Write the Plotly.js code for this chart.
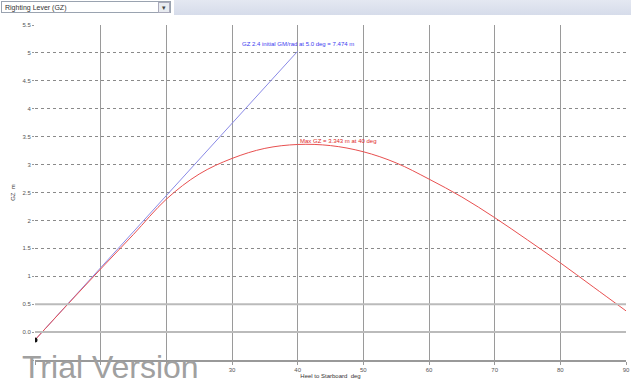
<!DOCTYPE html>
<html><head><meta charset="utf-8">
<script src="https://cdn.plot.ly/plotly-3.0.1.min.js"></script>
<style>
html,body{margin:0;padding:0;background:#fff;}
#wrap{position:relative;width:631px;height:383px;overflow:hidden;}
#chart{position:absolute;left:0;top:0;width:631px;height:383px;}
#hdr{position:absolute;left:0;top:0;width:631px;height:16px;}
#sel{position:absolute;left:1px;top:1px;width:170px;height:12px;border:1px solid #9aa3b0;background:#fff;font:7px "Liberation Sans",Arial,sans-serif;color:#333;line-height:12px;padding-left:3px;box-sizing:border-box;}
#btn{position:absolute;left:158px;top:2px;width:12px;height:11px;border:1px solid #aab;background:#e8ebf0;box-sizing:border-box;font:7px Arial;text-align:center;line-height:9px;color:#444;}
#bar{position:absolute;left:174px;top:0;width:457px;height:15px;background:linear-gradient(#e4e8f2,#d6dcea);}
</style></head>
<body><div id="wrap"><div id="chart"></div>
<div id="hdr"><div id="bar"></div><div id="sel">Righting Lever (GZ)</div><div id="btn">▾</div></div></div>
<script>
// Heel angles (deg) and righting lever GZ (m)
const heel = [0, 5, 10, 15, 20, 25, 30, 35, 40, 45, 50, 55, 60, 65, 70, 75, 80, 85, 90];
const gz   = [-0.14, 0.50, 1.13, 1.75, 2.38, 2.83, 3.11, 3.29, 3.36, 3.34, 3.23, 3.03, 2.74, 2.42, 2.05, 1.65, 1.24, 0.81, 0.38];
// Initial GM tangent line
const gmHeel = [0, 40];
const gmGZ   = [-0.14, 5.03];
const xTicks = [0, 10, 20, 30, 40, 50, 60, 70, 80, 90];
const xTickText = ['', '', '', '30', '40', '50', '60', '70', '80', '90'];
const yTicks = [-0.5, 0, 0.5, 1, 1.5, 2, 2.5, 3, 3.5, 4, 4.5, 5, 5.5];
const yTickText = ['', '0.0', '0.5', '1', '1.5', '2', '2.5', '3', '3.5', '4', '4.5', '5', '5.5'];
const maxLabel = 'Max GZ = 3.343 m at 40 deg';
const gmLabel = 'GZ 2.4 initial GM/rad at 5.0 deg = 7.474 m';

const F = '"Liberation Sans", Arial, sans-serif';
const traces = [
  {x: gmHeel, y: gmGZ, type: 'scatter', mode: 'lines', line: {color: '#8a8ae6', width: 1}, hoverinfo: 'skip'},
  {x: heel, y: gz, type: 'scatter', mode: 'lines', line: {color: '#e85050', width: 1, shape: 'spline', smoothing: 1}, hoverinfo: 'skip'},
  {x: [heel[0]], y: [gz[0]], type: 'scatter', mode: 'markers', marker: {color: '#111', size: 5}, hoverinfo: 'skip'}
];
const layout = {
  width: 631, height: 383,
  margin: {l: 35, r: 5, t: 25, b: 23},
  paper_bgcolor: '#fff', plot_bgcolor: '#fff',
  showlegend: false,
  font: {family: F, size: 7, color: '#444'},
  xaxis: {
    range: [0, 90], tickvals: xTicks, ticktext: xTickText,
    showgrid: true, gridcolor: '#9a9a9a', gridwidth: 1,
    zeroline: false, showline: true, linecolor: '#999', linewidth: 2,
    ticks: 'outside', ticklen: 3, tickcolor: '#999',
    tickfont: {size: 6, color: '#555', family: F},
    title: {text: 'Heel to Starboard  deg', font: {size: 6, color: '#333', family: F}, standoff: 2}
  },
  yaxis: {
    range: [-0.5, 5.5], tickvals: yTicks, ticktext: yTickText,
    showgrid: true, gridcolor: '#8a8a8a', gridwidth: 1, griddash: 'dot',
    zeroline: false, showline: false,
    ticks: 'outside', ticklen: 2, tickcolor: '#999',
    tickfont: {size: 6, color: '#555', family: F},
    title: {text: 'GZ  m', font: {size: 6, color: '#333', family: F}, standoff: 6}
  },
  shapes: [
    {type: 'line', xref: 'paper', x0: 0, x1: 1, yref: 'y', y0: 0, y1: 0, line: {color: '#bbb', width: 2}},
    {type: 'line', xref: 'paper', x0: 0, x1: 1, yref: 'y', y0: 0.5, y1: 0.5, line: {color: '#bbb', width: 2}}
  ],
  annotations: [
    {x: 40, y: 3.36, xref: 'x', yref: 'y', text: maxLabel, showarrow: false, xanchor: 'left', yanchor: 'bottom', yshift: -2,
     font: {size: 6, color: '#e02828', family: F}},
    {x: 40, y: 5.03, xref: 'x', yref: 'y', text: gmLabel, showarrow: false, xanchor: 'center', yanchor: 'bottom', yshift: 2,
     font: {size: 6, color: '#3c3cf0', family: F}},
    {x: -15 / 591, y: -27 / 335, xref: 'paper', yref: 'paper', text: 'Trial Version', showarrow: false,
     xanchor: 'left', yanchor: 'bottom', font: {size: 32, color: '#a0a0a0', family: F}}
  ]
};
Plotly.newPlot('chart', traces, layout, {staticPlot: true, displayModeBar: false});
</script></body></html>
